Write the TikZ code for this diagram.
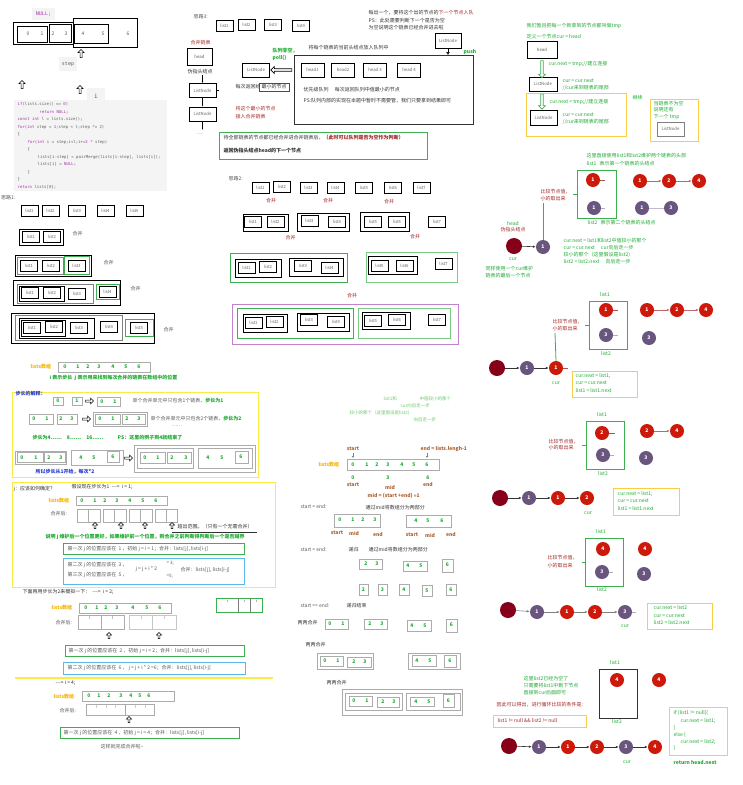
\documentclass[tikz,border=0pt]{standalone}
\usepackage{fontspec}
\setmainfont{Noto Sans CJK SC}
\setmonofont{DejaVu Sans Mono}
\usetikzlibrary{shapes.arrows,arrows.meta}
\definecolor{gt}{RGB}{30,170,50}
\definecolor{lgt}{RGB}{110,200,110}
\definecolor{rt}{RGB}{165,40,40}
\definecolor{ot}{RGB}{245,180,0}
\definecolor{bt}{RGB}{40,60,210}
\definecolor{brt}{RGB}{175,95,45}
\definecolor{yb}{RGB}{250,235,70}
\definecolor{gb}{RGB}{60,175,80}
\definecolor{lgb}{RGB}{120,205,130}
\definecolor{lbb}{RGB}{90,185,235}
\definecolor{pb}{RGB}{195,130,205}
\definecolor{nr}{RGB}{205,25,10}
\definecolor{np}{RGB}{105,85,125}
\definecolor{nd}{RGB}{135,0,25}
\definecolor{gy}{RGB}{90,90,90}
\definecolor{codebg}{RGB}{244,244,244}
\definecolor{gold}{RGB}{250,205,70}
\definecolor{kwc}{RGB}{170,50,170}
\newcommand\myfs{\fontsize{5}{6}\selectfont}
\newcommand\kw[1]{\textcolor{kwc}{#1}}
\newcommand\bxx[4]{\draw[nb] (#1,#2) rectangle (#3,#4);}
\newcommand\dgt[3]{\node[dg] at (#1,#2) {#3};}
\begin{document}
\begin{tikzpicture}[x=1pt,y=-1pt,
  every node/.style={font=\myfs, inner sep=0.5pt, text=gy},
  tw/.style={anchor=west},
  lb/.style={draw=black, line width=0.7pt, minimum width=17pt, minimum height=11pt, font=\fontsize{4.2}{5}\selectfont, text=gray!80!black},
  nb/.style={draw=gray!65, line width=0.6pt},
  dg/.style={text=gt, font=\bfseries\fontsize{5}{6}\selectfont},
  ua/.style={single arrow, draw=black, fill=white, line width=0.5pt, shape border rotate=90, minimum height=8pt, minimum width=6pt, single arrow head extend=1.3pt, inner sep=0.4pt},
  cn/.style={circle, fill=#1, draw=none, minimum size=14pt, text=white, font=\bfseries\fontsize{5}{6}\selectfont, inner sep=0},
  ar/.style={-{Latex[length=3pt,width=2.5pt]}, line width=0.6pt, draw=black!80},
  rar/.style={-{Latex[length=3pt,width=2.5pt]}, line width=0.8pt, draw=rt!70},
  stub/.style={line width=0.6pt, draw=nr!40!gray},
  code/.style={font=\ttfamily\fontsize{4}{5}\selectfont, text=gray!75!black, anchor=west},
  gtx/.style={anchor=west, text=gt},
  rtx/.style={anchor=west, text=rt},
  ln/.style={draw=black, line width=0.8pt, minimum width=27pt, minimum height=14pt, font=\fontsize{4.3}{5}\selectfont, text=gray!80!black}
]
\useasboundingbox (0,0) rectangle (743,785);
\fill[white] (0,0) rectangle (743,785);

% ===== top-left array & code =====
\node[fill=codebg, minimum width=23pt, minimum height=12pt] (nullbg) at (43.5,14) {};
\node[font=\ttfamily\fontsize{5}{6}\selectfont, text=kwc] (null) at (43.5,14) {NULL;};
\draw[line width=1pt] (13,22) rectangle (73,44);
\draw[line width=1pt] (17,26) rectangle (47,42);
\draw[line width=1pt] (49,24) rectangle (71,42);
\draw[line width=1pt] (73,18) rectangle (137,47);
\draw[line width=1pt] (74,24) rectangle (108,43);
\node (a0) at (28,34) {0}; \node (a1) at (42,34) {1};
\node (a2) at (53,34) {2}; \node (a3) at (66,34) {3};
\node (a4) at (83,34) {4}; \node (a5) at (103,34) {5}; \node (a6) at (128,34) {6};
\node[ua] (upstep) at (81,54) {};
\node[fill=codebg, minimum width=18pt, minimum height=14pt] (stepbg) at (68,64) {};
\node[font=\ttfamily\fontsize{5}{6}\selectfont] (steptx) at (68,64) {step};
\node[ua] (up0) at (22,85) {};
\node[ua] (upi) at (80,90) {};
\node[fill=codebg, minimum width=18pt, minimum height=14pt] (ibg) at (96,95) {};
\node[font=\ttfamily\fontsize{6}{7}\selectfont] (itx) at (96,96) {i};
\fill[codebg] (14,100) rectangle (167,191);
\node[code] (c1) at (17,104) {\kw{if}(lists.size() == \kw{0})};
\node[code] (c2) at (39,112) {\kw{return} \kw{NULL};};
\node[code] (c3) at (17,119) {\kw{const} \kw{int} l = lists.size();};
\node[code] (c4) at (17,127) {\kw{for}(\kw{int} step = \kw{1};step < l;step *= \kw{2})};
\node[code] (c5) at (17,134) {\{};
\node[code] (c6) at (27,142) {\kw{for}(\kw{int} i = step;i<l;i+=\kw{2} * step)};
\node[code] (c7) at (27,149) {\{};
\node[code] (c8) at (37,157) {lists[i-step] = pairMerge(lists[i-step], lists[i]);};
\node[code] (c9) at (37,164) {lists[i] = \kw{NULL};};
\node[code] (c10) at (27,172) {\}};
\node[code] (c11) at (17,179) {\}};
\node[code] (c12) at (17,187) {\kw{return} lists[\kw{0}];};

% ===== 思路1 =====
\node[tw] (s1) at (0.5,198) {思路1:};
\node[lb] (r1a) at (29.5,210.5) {list1};
\node[lb] (r1b) at (50.5,210.5) {list2};
\node[lb] (r1c) at (77,210.5) {list3};
\node[lb] (r1d) at (105.5,211) {list4};
\node[lb] (r1e) at (134.5,211) {list5};
\draw[line width=0.8pt] (19,229) rectangle (63,245);
\node[lb] (r2a) at (31,237) {list1};
\node[lb] (r2b) at (52,237) {list2};
\node[tw] (m2) at (72,234) {合并};
\draw[line width=0.8pt] (15,255) rectangle (91,276);
\draw[line width=0.8pt, draw=gray] (17,257) rectangle (63,274);
\node[lb] (r3a) at (29,265.5) {list1};
\node[lb] (r3b) at (51,265.5) {list2};
\draw[line width=0.8pt, draw=gb] (64,256) rectangle (89,274);
\node[lb] (r3c) at (76.5,265.5) {list3};
\node[tw] (m3) at (103,263) {合并};
\draw[line width=0.8pt] (13,280) rectangle (120,305);
\draw[line width=0.8pt, draw=gray] (17,284) rectangle (93,303);
\draw[line width=0.6pt] (19,286) rectangle (64,301);
\node[lb] (r4a) at (30,293) {list1};
\node[lb] (r4b) at (52,293) {list2};
\node[lb] (r4c) at (77,293.5) {list3};
\draw[line width=0.8pt, draw=gb] (96,284) rectangle (119,299);
\node[lb] (r4d) at (107.5,291.5) {list4};
\node[tw] (m4) at (130,289) {合并};
\draw[line width=0.8pt] (11,313) rectangle (154,343);
\draw[line width=0.8pt, draw=gray] (15,315) rectangle (122,340);
\draw[line width=0.7pt] (19,318) rectangle (94,338);
\draw[line width=0.6pt] (21,320) rectangle (65,336);
\node[lb] (r5a) at (32,327.5) {list1};
\node[lb] (r5b) at (54,327) {list2};
\node[lb] (r5c) at (79,327.5) {list3};
\node[lb] (r5d) at (109,326.5) {list4};
\draw[line width=0.8pt, draw=gb] (125,319) rectangle (153,336);
\node[lb] (r5e) at (139,327.5) {list5};
\node[tw] (m5) at (163,330) {合并};

% ===== step explanation =====
\node[tw, text=ot, font=\bfseries\myfs] (la1) at (30,367) {lists数组};
\bxx{58}{362}{150}{372}
\dgt{65}{367}{0}\dgt{78}{367}{1}\dgt{88}{367}{2}\dgt{99}{367}{3}\dgt{113}{367}{4}\dgt{126}{367}{5}\dgt{139}{367}{6}
\node[gtx, font=\bfseries\myfs] (ij) at (49,378) {i 表示步长 \ j 表示用来找到每次合并的链表在数组中的位置};
\draw[yb, line width=0.9pt] (12,392) rectangle (258,477);
\node[tw, text=bt, font=\bfseries\myfs] (bz) at (15,394) {步长的解释：};
\bxx{53}{397}{63}{405}\dgt{58}{401}{0}
\bxx{72}{397}{82}{405}\dgt{77}{401}{1}
\node[ua, shape border rotate=0, minimum height=8pt] (ra1) at (89,401) {};
\bxx{97}{397}{120}{406}\dgt{102}{401.5}{0}\dgt{115}{401.5}{1}
\node[tw] (e1) at (132,401) {单个合并单元中只包含1个链表，\textcolor{gt}{\bfseries 步长为1}};
\bxx{29}{414}{53}{424}\dgt{34}{419}{0}\dgt{47}{419}{1}
\bxx{57}{414}{77}{424}\dgt{61}{419}{2}\dgt{72}{419}{3}
\node[ua, shape border rotate=0, minimum height=8pt] (ra2) at (86,419) {};
\bxx{93}{412}{147}{426}
\bxx{95}{414}{120}{424}\dgt{100}{419}{0}\dgt{113}{419}{1}
\bxx{122}{414}{145}{424}\dgt{127}{419}{2}\dgt{139}{419}{3}
\node[tw] (e2) at (150,419) {单个合并单元中只包含2个链表，\textcolor{gt}{\bfseries 步长为2}};
\node[tw] (dots1) at (171,426) {……};
\node[gtx, font=\bfseries\myfs] (e3) at (32,438) {步长为4……\quad 8……\quad 16……};
\node[gtx, font=\bfseries\myfs] (e4) at (117,438) {PS：这里的例子到4就结束了};
\bxx{15}{451}{66}{464}
\bxx{17}{452.5}{43}{462.5}\dgt{22}{457.5}{0}\dgt{36}{457.5}{1}
\bxx{44}{452.5}{65}{462.5}\dgt{49}{457.5}{2}\dgt{61}{457.5}{3}
\bxx{71}{450}{123}{465}\dgt{81}{458}{4}\dgt{94}{458}{5}
\bxx{107}{451}{119}{462}\dgt{113}{456.5}{6}
\node[ua, shape border rotate=0, minimum height=8pt] (ra3) at (128,458) {};
\bxx{134}{445}{255}{472}
\bxx{137}{448}{193}{468}
\bxx{140}{452}{165}{463}\dgt{145}{457.5}{0}\dgt{158}{457.5}{1}
\bxx{167}{452}{191}{463}\dgt{172}{457.5}{2}\dgt{186}{457.5}{3}
\bxx{198}{448}{252}{468}\dgt{208}{458}{4}\dgt{222}{458}{5}
\bxx{235}{451}{248}{463}\dgt{241}{457}{6}
\node[tw, text=bt, font=\bfseries\myfs] (e5) at (35,472) {所以步长从1开始，每次*2};

% ===== j explanation =====
\draw[yb, line width=0.9pt] (12,482) rectangle (275,587);
\node[tw, text=black!80] (jq) at (13,489) {j：应该如何确定？};
\node[tw, text=black!80] (jq2) at (71,487) {假设现在步长为1 \ -{}-{}-> \ i = 1;};
\node[tw, text=ot, font=\bfseries\myfs] (la2) at (48,501) {lists数组};
\bxx{76}{496}{167}{505}
\dgt{82}{500.5}{0}\dgt{95}{500.5}{1}\dgt{105}{500.5}{2}\dgt{117}{500.5}{3}\dgt{130}{500.5}{4}\dgt{143}{500.5}{5}\dgt{156}{500.5}{6}
\node[tw] (hb1) at (50,514) {合并后:};
\foreach \a/\b in {77/100,103/126,129/152,155/177}{
  \draw[nb] (\a,509) rectangle (\b,522);
  \draw[nb] ({(\a+\b)/2},509) -- ({(\a+\b)/2},522);
}
\foreach \x in {95,121,145,172}{ \node[ua, minimum height=6pt, minimum width=5pt] at (\x,526) {}; }
\node[tw, text=black!80] (cc) at (177,527) {超出范围。（只有一个无需合并）};
\draw[black!80, line width=0.6pt] (172,532) -- (257,532);
\node[gtx, font=\bfseries\myfs] (sm) at (45,537) {说明 j 维护后一个位置更好，如果维护前一个位置，则合并之前判断得判断后一个是否越界};
\draw[gb, line width=0.8pt] (63,543) rectangle (244,554);
\node[tw] (g1) at (67,548.5) {第一次 j 的位置应该在 \ 1 ，初始 j = i = 1；合并：lists[j], lists[i-j]};
\draw[lbb, line width=0.8pt] (63,558) rectangle (244,584);
\node[tw] (b1) at (67,565) {第二次 j 的位置应该在 \ 3 ，};
\node[tw] (b2) at (67,575) {第三次 j 的位置应该在 \ 5 ，};
\node[tw] (b3) at (135,569) {j = j + i * 2};
\node[tw, font=\fontsize{4.5}{5}\selectfont] (b4) at (166,563) {= 3;};
\node[tw, font=\fontsize{4.5}{5}\selectfont] (b5) at (166,576) {=5;};
\node[tw] (b6) at (180,570) {合并：lists[j], lists[i-j]};
\node[tw, text=black!80] (i2) at (22,592) {下面再用步长为2来模拟一下： \ -{}-{}-> \ i = 2;};
\draw[gb, line width=0.8pt] (216,598) rectangle (262,612);
\draw[gray, line width=0.6pt] (238,598) -- (238,612) (250,598) -- (250,612);
\draw[gray!60, line width=0.4pt] (227,600) -- (227,602) (244,600) -- (244,602) (256,600) -- (256,602);
\node[tw, text=ot, font=\bfseries\myfs] (la3) at (51,608) {lists数组};
\bxx{79}{603}{171}{613}
\dgt{86}{608}{0}\dgt{97}{608}{1}\dgt{106}{608}{2}\dgt{117}{608}{3}\dgt{133}{608}{4}\dgt{147}{608}{5}\dgt{160}{608}{6}
\node[tw] (hb2) at (55,623) {合并后:};
\draw[nb] (78,615) rectangle (124,629);
\draw[nb] (101,615) -- (101,629);
\draw[gray!50, line width=0.4pt] (89.5,616) -- (89.5,619) (112.5,616) -- (112.5,619);
\draw[draw=gray!45, line width=0.6pt] (129,615) rectangle (176,629);
\draw[gray!45] (152.5,615) -- (152.5,629);
\draw[gray!40, line width=0.4pt] (141,616) -- (141,619) (164,616) -- (164,619);
\node[ua, minimum height=6pt, minimum width=5pt] (u21) at (109,636) {};
\node[ua, minimum height=6pt, minimum width=5pt] (u22) at (159,636) {};
\draw[gb, line width=0.8pt] (65,645) rectangle (244,656);
\node[tw] (g2) at (68,650.5) {第一次 j 的位置应该在 \ 2 ，初始 j = i = 2；合并：lists[j], lists[i-j]};
\draw[lbb, line width=0.8pt] (63,662) rectangle (245,674);
\node[tw] (g3) at (67,668) {第二次 j 的位置应该在 \ 6 ， j = j + i * 2 =6；合并：lists[j], lists[i-j]};
\draw[yb, line width=1.5pt] (15,678) -- (273,678);
\node[tw, text=black!80] (i4) at (55,683) {-{}-{}-> i = 4;};
\node[tw, text=ot, font=\bfseries\myfs] (la4) at (53,697) {lists数组};
\bxx{82}{691}{174}{701}
\dgt{89}{696}{0}\dgt{99}{696}{1}\dgt{109}{696}{2}\dgt{121}{696}{3}\dgt{131}{696}{4}\dgt{140}{696}{5}\dgt{149}{696}{6}
\node[tw] (hb3) at (59,711) {合并后:};
\draw[nb] (86,704) rectangle (154,715);
\draw[gray!70, line width=0.6pt] (125,704) -- (125,715);
\foreach \x in {96,106,115,135,145}{ \draw[gray!40, line width=0.4pt] (\x,705) -- (\x,708); }
\node[ua, minimum height=6pt, minimum width=5pt] (u41) at (129,720) {};
\draw[gb, line width=0.8pt] (60,727) rectangle (239,738);
\node[tw] (g4) at (63,732.5) {第一次 j 的位置应该在 \ 4 ，初始 j = i = 4；合并：lists[j], lists[i-j]};
\node[tw] (done) at (100,747) {这样就完成合并啦\textasciitilde};

% ===== 思路3 =====
\node[tw] (s3) at (193,17) {思路3:};
\node[lb] (q1) at (224.5,25.5) {list1};
\node[lb] (q2) at (246.5,24.5) {list2};
\node[lb] (q3) at (273,25) {list3};
\node[lb] (q4) at (301,25.5) {list4};
\node[tw, text=rt] (hbl) at (190,43) {合并链表};
\node[draw=black, line width=0.8pt, minimum width=25pt, minimum height=17pt, font=\fontsize{4.3}{5}\selectfont] (hd3) at (199.5,56.5) {head};
\node[text=black!80] (wz) at (200,72) {伪指头结点};
\node[ln] (ln1) at (202.5,90.5) {ListNode};
\node[ln] (ln2) at (202.5,114) {ListNode};
\draw[-{Latex[length=2pt]}, line width=1pt] (wz.south -| ln1.north) -- (ln1.north);
\draw[-{Latex[length=2pt]}, line width=1pt] (ln1.south) -- (ln2.north);
\coordinate (ln3) at (202.5,130);
\draw[-{Latex[length=2pt]}, line width=0.8pt] (ln2.south) -- (ln3);
\node (dd) at (200,134) {....};
\draw[line width=0.5pt] (ln1.east) -- ++(3,0);
\node[ln] (pq) at (256,70) {ListNode};
\node[draw=black!80, line width=0.8pt, minimum width=179pt, minimum height=69pt, anchor=north west] (pqbox) at (294,55) {};
\node[single arrow, draw=black, line width=0.6pt, shape border rotate=180, minimum height=21pt, minimum width=7pt, single arrow head extend=1.5pt, inner sep=0.5pt] (pa) at (282,70) {};
\node[gtx, font=\bfseries\myfs] (qf) at (272,51) {队列非空，};
\node[gtx, font=\bfseries\myfs] (poll) at (272,58) {poll()};
\node[tw, text=black!80] (fr) at (308,48) {将每个链表的当前头结点放入队列中};
\node[ln, minimum width=23pt] (h1) at (312.5,70) {head1};
\node[ln, minimum width=23pt] (h2) at (343,70) {head2};
\node[ln, minimum width=23pt] (h3) at (375,70) {head 3};
\node[ln, minimum width=23pt] (h4) at (409,70) {head 4};
\node[tw, text=black!80] (pr1) at (303,90) {优先级队列 \quad 每次返回队列中值最小的节点};
\node[tw, text=black!80] (pr2) at (303,101) {PS:队列内部的实现在本题中暂时不需要管，我们只要拿到结果即可};
\node[tw, text=black!80] (mc) at (235,87) {每次返回给};
\node[draw=rt, line width=0.7pt, minimum width=30pt, minimum height=8pt, text=black!80] (mn) at (274,87) {最小的节点};
\node[tw, text=rt] (jr1) at (235,109) {将这个最小的节点};
\node[tw, text=rt] (jr2) at (235,117) {接入合并链表};
\node[ln, minimum width=26pt, minimum height=15pt] (pushln) at (448,40.5) {ListNode};
\draw[-{Latex[open,length=3pt,width=4pt]}, line width=1pt] (pushln.south) -- (pushln.south |- pqbox.north);
\node[gtx, font=\bfseries\myfs] (push) at (463,52) {push};
\node[tw, text=black!80] (t1) at (368,13) {每出一个，要将这个出的节点的\textcolor{rt}{下一个节点入队}};
\node[tw, text=black!80] (t2) at (368,21) {PS：此处需要判断下一个是否为空};
\node[tw, text=black!80] (t3) at (368,28) {为空说明这个链表已经合并进去啦};
\draw[gb, line width=0.8pt] (219,132) rectangle (427,159);
\node[tw, text=black!80] (gg1) at (223,138) {待全部链表的节点都已经合并进合并链表后，\textcolor{rt}{\bfseries（此时可以队列是否为空作为判断）}};
\node[tw, text=black!80, font=\bfseries\myfs] (gg2) at (223,151) {返回伪指头结点head的下一个节点};

% ===== 思路2 =====
\node[tw] (s2) at (228,179) {思路2:};
\node[lb] (p1) at (260.5,188) {list1};
\node[lb] (p2) at (282,187) {list2};
\node[lb] (p3) at (308.5,188) {list3};
\node[lb] (p4) at (335.5,188) {list4};
\node[lb] (p5) at (364,188) {list5};
\node[lb] (p6) at (393,188) {list6};
\node[lb] (p7) at (421.5,188) {list7};
\node[text=rt] (pm1) at (271,201) {合并};
\node[text=rt] (pm2) at (328,201) {合并};
\node[text=rt] (pm3) at (389,202) {合并};
\draw[line width=0.8pt] (243,214) rectangle (288,231);
\node[lb] (pp1) at (253,222) {list1};
\node[lb] (pp2) at (275.5,221.5) {list2};
\draw[line width=0.8pt] (297,213) rectangle (349,231);
\node[lb] (pp3) at (309.5,220.5) {list3};
\node[lb] (pp4) at (337,221.5) {list4};
\draw[line width=0.8pt] (360,212) rectangle (409,231);
\node[lb] (pp5) at (373,222) {list5};
\node[lb] (pp6) at (397,222) {list6};
\node[lb] (pp7) at (437,222) {list7};
\node[text=rt] (pm4) at (290.5,238) {合并};
\node[text=rt] (pm5) at (415,237) {合并};
\draw[gb, line width=0.8pt] (230,253) rectangle (347,282);
\draw[line width=0.8pt] (235,259) rectangle (281,277);
\node[lb] (q31) at (246.5,267.5) {list1};
\node[lb] (q32) at (268,267) {list2};
\draw[line width=0.8pt] (289,258) rectangle (343,276);
\node[lb] (q33) at (303,266) {list3};
\node[lb] (q34) at (329.5,267.5) {list4};
\draw[lgb, line width=0.8pt] (366,252) rectangle (457,282);
\draw[line width=0.8pt] (368,256) rectangle (417,274);
\node[lb] (q35) at (379.5,265.5) {list5};
\node[lb] (q36) at (404.5,265.5) {list6};
\node[lb] (q37) at (443.5,264) {list7};
\node[text=rt] (pm6) at (352,296) {合并};
\draw[pb, line width=0.8pt] (232,304) rectangle (458,344);
\draw[gb, line width=0.8pt] (237,308) rectangle (353,338);
\draw[line width=0.8pt] (243,314) rectangle (287,332);
\node[lb] (q41) at (253.5,323) {list1};
\node[lb] (q42) at (274.5,321.5) {list2};
\draw[line width=0.8pt] (297,313) rectangle (349,331);
\node[lb] (q43) at (309,319.5) {list3};
\node[lb] (q44) at (336,321.5) {list4};
\draw[lgb, line width=0.8pt] (358,308) rectangle (450,338);
\draw[line width=0.8pt] (362,312) rectangle (410,329);
\node[lb] (q45) at (373,321) {list5};
\node[lb] (q46) at (397,319.5) {list6};
\node[lb] (q47) at (437,319.5) {list7};

% ===== faded green note =====
\node[tw, text=lgt, font=\fontsize{4.5}{5}\selectfont] (fn1) at (383,399) {list1和};
\node[tw, text=lgt, font=\fontsize{4.5}{5}\selectfont] (fn2) at (419,399) {中值较小的那个};
\node[tw, text=lgt, font=\fontsize{4.5}{5}\selectfont] (fn3) at (400,406) {cur向后走一步};
\node[tw, text=lgt, font=\fontsize{4.5}{5}\selectfont] (fn4) at (349,413) {较小的那个（这里假设是list2)};
\node[tw, text=lgt, font=\fontsize{4.5}{5}\selectfont] (fn5) at (413,420) {向后走一步};

% ===== divide & conquer =====
\node[text=brt, font=\bfseries\myfs] (st0) at (353,449) {start};
\node[tw, text=brt, font=\bfseries\myfs] (en0) at (420,449) {end = lists.lengh-1};
\draw[-{Latex[open,length=2pt,width=3pt]}, gray, line width=0.5pt] (353,453) -- (353,458);
\draw[-{Latex[open,length=2pt,width=3pt]}, gray, line width=0.5pt] (427,453) -- (427,458);
\node[tw, text=ot, font=\bfseries\myfs] (la5) at (318,465) {lists数组};
\bxx{347}{459}{439}{470}
\dgt{353}{465}{0}\dgt{367}{465}{1}\dgt{377}{465}{2}\dgt{388}{465}{3}\dgt{402}{465}{4}\dgt{414}{465}{5}\dgt{427}{465}{6}
\dgt{353}{478}{0}\node[text=brt, font=\bfseries\myfs] (st1) at (353,485) {start};
\dgt{388}{478}{3}\node[text=brt, font=\bfseries\myfs] (md1) at (390,487) {mid};
\dgt{428}{478}{6}\node[text=brt, font=\bfseries\myfs] (en1) at (428,485) {end};
\node[tw, text=brt, font=\bfseries\myfs] (mf) at (367,496) {mid = (start +end) >>1};
\node[tw] (se1) at (300,507) {start < end:};
\node[tw, text=black!80] (dv1) at (365,508) {通过mid将数组分为两部分};
\bxx{334}{514}{380}{527}\dgt{340}{520}{0}\dgt{353}{520}{1}\dgt{363}{520}{2}\dgt{375}{520}{3}
\bxx{406}{515}{451}{527}\dgt{416}{521}{4}\dgt{428}{521}{5}\dgt{442}{521}{6}
\node[text=brt, font=\bfseries\myfs] (l1) at (337,533) {start};
\node[text=brt, font=\bfseries\myfs] (l2) at (354,533) {mid};
\node[text=brt, font=\bfseries\myfs] (l3) at (378,535) {end};
\node[text=brt, font=\bfseries\myfs] (l4) at (412,535) {start};
\node[text=brt, font=\bfseries\myfs] (l5) at (430,535) {mid};
\node[text=brt, font=\bfseries\myfs] (l6) at (451,535) {end};
\node[tw] (se2) at (300,550) {start < end:};
\node[tw, text=black!80] (dg2) at (348,550) {递归};
\node[tw, text=black!80] (dv2) at (368,550) {通过mid将数组分为两部分};
\bxx{359}{559}{382}{569}\dgt{366}{564}{2}\dgt{377}{564}{3}
\bxx{403}{561}{427}{571}\dgt{408}{566}{4}\dgt{421}{566}{5}
\bxx{442}{559}{453}{572}\dgt{447.5}{565}{6}
\bxx{359}{584}{368}{595}\dgt{363.5}{589.5}{2}
\bxx{378}{584}{387}{595}\dgt{382.5}{589.5}{3}
\bxx{399}{584}{409}{595}\dgt{404}{589.5}{4}
\bxx{422}{585}{432}{596}\dgt{427}{590.5}{5}
\bxx{446}{584}{456}{595}\dgt{451}{589.5}{6}
\node[tw] (se3) at (300,606) {start == end:};
\node[tw, text=black!80] (dg3) at (346,606) {递归结束};
\node[tw, text=black!80] (mg1) at (297,623) {两两合并};
\bxx{325}{619}{348}{629}\dgt{330}{624}{0}\dgt{343}{624}{1}
\bxx{364}{619}{387}{629}\dgt{370}{624}{2}\dgt{382}{624}{3}
\bxx{407}{620}{431}{631}\dgt{412}{625.5}{4}\dgt{425}{625.5}{5}
\bxx{446}{619}{457}{632}\dgt{451.5}{625}{6}
\node[tw, text=black!80] (mg2) at (305,645) {两两合并};
\bxx{317}{653}{373}{669}
\bxx{320}{656}{343}{666}\dgt{325}{661}{0}\dgt{338}{661}{1}
\bxx{347}{657}{371}{667}\dgt{354}{662}{2}\dgt{365}{662}{3}
\bxx{408}{653}{460}{669}
\bxx{412}{655}{436}{666}\dgt{417}{660.5}{4}\dgt{430}{660.5}{5}
\bxx{444}{655}{456}{667}\dgt{450}{661}{6}
\node[tw, text=black!80] (mg3) at (326,683) {两两合并};
\bxx{342}{689}{462}{715}
\bxx{345}{693}{402}{710}
\bxx{349}{696}{372}{706}\dgt{354}{701}{0}\dgt{367}{701}{1}
\bxx{377}{697}{399}{707}\dgt{383}{702}{2}\dgt{394}{702}{3}
\bxx{406}{693}{460}{710}
\bxx{410}{697}{434}{706}\dgt{416}{701.5}{4}\dgt{429}{701.5}{5}
\bxx{443}{694}{454}{707}\dgt{448.5}{700.5}{6}

% ===== right column: tmp =====
\node[gtx] (tm1) at (526,26) {我们暂且把每一个新拿到的节点都叫做tmp};
\node[gtx] (tm2) at (526,37) {定义一个节点cur = head};
\node[draw=black, line width=0.8pt, minimum width=30pt, minimum height=17pt, font=\fontsize{4.3}{5}\selectfont] (rhd) at (542,49.5) {head};
\node[ln, minimum width=28pt] (rln1) at (543,84) {ListNode};
\node[single arrow, draw=gb, fill=white, line width=0.6pt, shape border rotate=270, minimum height=17pt, minimum width=7pt, single arrow head extend=1.5pt, inner sep=0.5pt] (ga1) at (542,68.5) {};
\node[gtx] (ct1) at (548,64) {cur.next = tmp;//建立连接};
\node[gtx] (ct2) at (562,81) {cur = cur.next};
\node[gtx] (ct3) at (562,88) {//cur来到链表的尾部};
\draw[gold, line width=0.8pt] (526,93) rectangle (626,136);
\node[ln, minimum width=27pt, minimum height=15pt] (rln2) at (543.5,117.5) {ListNode};
\node[single arrow, draw=gb, fill=white, line width=0.6pt, shape border rotate=270, minimum height=15pt, minimum width=7pt, single arrow head extend=1.5pt, inner sep=0.5pt] (ga2) at (542,101) {};
\node[gtx] (ct4) at (549,102) {cur.next = tmp;//建立连接};
\node[gtx] (ct5) at (562,115) {cur = cur.next};
\node[gtx] (ct6) at (562,122) {//cur来到链表的尾部};
\node[gtx] (jx) at (632,98) {继续};
\draw[gold, line width=0.8pt] (650,99) rectangle (698,141);
\node[gtx] (nn1) at (653,104) {当链表不为空};
\node[gtx] (nn2) at (653,110) {说明还有};
\node[gtx] (nn3) at (653,117) {下一个 tmp};
\node[ln, draw=gray, minimum width=27pt] (rln3) at (670.5,129) {ListNode};
\node[gtx] (zj1) at (586,156) {这里直接使用list1和list2维护两个链表的头部};
\node[gtx] (zj2) at (586,164) {list1 \ \ 表示第一个链表的头结点};

% step A
\draw[gb, line width=0.8pt] (577,170) rectangle (616,218);
\node[cn=nr] (A1) at (593,180) {1};
\node[cn=np] (A2) at (594,208) {1};
\draw[stub] (A1.east) -- ++(5,0);
\draw[stub, draw=np!50] (A2.east) -- ++(4,0);
\node[gtx] (l2t) at (587,223) {list2 \ \ 表示第二个链表的头结点};
\node[cn=nr] (A3) at (640,181) {1};
\node[cn=nr] (A4) at (669,181) {2};
\node[cn=nr] (A5) at (699,181) {4};
\draw[rar] (A3) -- (A4); \draw[rar] (A4) -- (A5);
\node[cn=np] (A6) at (642,208) {1};
\node[cn=np] (A7) at (671,208) {3};
\draw[line width=0.9pt, draw=np!40] (A6) -- (A7);
\node[rtx] (cmpA1) at (540,192) {比较节点值，};
\node[rtx] (cmpA2) at (540,199) {小的取出来};
\draw[gb, line width=0.8pt] (573,194) -- (577,194);
\node[text=gt] (hdA) at (513,224) {head};
\node[text=rt] (wzA) at (513,230) {伪指头结点};
\node[cn=nd, minimum size=16pt] (A0) at (514,246) {};
\node[cn=np] (A8) at (543,247) {1};
\draw[ar] (A0) -- (A8);
\draw[gb, line width=0.8pt] (543,203) -- (A8.north);
\node[text=gt] (curA) at (513,259) {cur};
\node[gtx] (ty1) at (485,269) {同样使用一个cur维护};
\node[gtx] (ty2) at (485,276) {链表的最后一个节点};
\node[gtx] (ex1) at (563,241) {cur.next = list1和list2中值较小的那个};
\node[gtx] (ex2) at (563,248) {cur = cur.next \quad cur向后走一步};
\node[gtx] (ex3) at (563,255) {较小的那个（这里假设是list2)};
\node[gtx] (ex4) at (563,262) {list2 = list2.next \quad 向后走一步};

% step B
\node[text=gt] (Bl1) at (605,295) {list1};
\draw[gb, line width=0.8pt] (589,301) rectangle (627,349);
\node[cn=nr] (B1) at (606,310) {1};
\node[cn=np] (B2) at (606,335) {3};
\draw[stub] (B1.east) -- ++(5,0);
\draw[stub, draw=np!50] (B2.east) -- ++(5,0);
\node[text=gt] (Bl2) at (606,354) {list2};
\node[cn=nr] (B3) at (647,310) {1};
\node[cn=nr] (B4) at (677,310) {2};
\node[cn=nr] (B5) at (706,310) {4};
\draw[rar] (B3) -- (B4); \draw[rar] (B4) -- (B5);
\node[cn=np] (B6) at (649,338) {3};
\node[rtx] (cmpB1) at (552,322) {比较节点值，};
\node[rtx] (cmpB2) at (552,329) {小的取出来};
\draw[gb, line width=0.8pt] (585,325) -- (589,325);
\node[cn=nd, minimum size=16pt] (B0) at (497,368) {};
\node[cn=np] (B7) at (527,368) {1};
\node[cn=nr] (B8) at (556,368) {1};
\draw[ar] (B0) -- (B7); \draw[ar] (B7) -- (B8);
\draw[stub] (B8.east) -- ++(5,0);
\draw[gb, line width=0.8pt] (555,333) -- (B8.north);
\node[text=gt] (curB) at (556,383) {cur};
\draw[gold, line width=0.8pt] (572,371) rectangle (637,397);
\node[gtx] (bb1) at (575,376) {cur.next = list1;};
\node[gtx] (bb2) at (575,383) {cur = cur.next};
\node[gtx] (bb3) at (575,391) {list1 = list1.next};

% step C
\node[text=gt] (Cl1) at (602,415) {list1};
\draw[gb, line width=0.8pt] (586,421) rectangle (624,469);
\node[cn=nr] (C1) at (602,433) {2};
\node[cn=np] (C2) at (603,455) {3};
\draw[stub] (C1.east) -- ++(6,0);
\draw[stub, draw=np!50] (C2.east) -- ++(4,0);
\node[rtx] (cmpC1) at (548,442) {比较节点值，};
\node[rtx] (cmpC2) at (548,448) {小的取出来};
\draw[gb, line width=0.8pt] (582,445) -- (586,445);
\node[cn=nr] (C3) at (647,431) {2};
\node[cn=nr] (C4) at (677,431) {4};
\draw[rar] (C3) -- (C4);
\node[cn=np] (C5) at (646,458) {3};
\node[text=gt] (Cl2) at (603,474) {list2};
\node[cn=nd, minimum size=16pt] (D0) at (500,498) {};
\node[cn=np] (D1) at (529,498) {1};
\node[cn=nr] (D2) at (558,498) {1};
\node[cn=nr] (D3) at (587,498) {2};
\draw[ar] (D0) -- (D1); \draw[ar] (D1) -- (D2); \draw[ar] (D2) -- (D3);
\node[text=gt] (curD) at (588,513) {cur};
\draw[gold, line width=0.8pt] (613,488) rectangle (679,515);
\node[gtx] (dd1) at (617,494) {cur.next = list1;};
\node[gtx] (dd2) at (617,501) {cur = cur.next};
\node[gtx] (dd3) at (617,509) {list1 = list1.next};

% step E
\node[text=gt] (El1) at (601,532) {list1};
\draw[gb, line width=0.8pt] (585,538) rectangle (623,586);
\node[cn=nr] (E1) at (603,549) {4};
\node[cn=np] (E2) at (602,572) {3};
\draw[stub, draw=np!50] (E2.east) -- ++(4,0);
\node[text=gt] (El2) at (602,590) {list2};
\node[cn=nr] (E3) at (645,549) {4};
\node[cn=np] (E4) at (644,574) {3};
\node[rtx] (cmpE1) at (547,558) {比较节点值，};
\node[rtx] (cmpE2) at (547,566) {小的取出来};
\draw[gb, line width=0.8pt] (582,562) -- (585,562);
\node[cn=nd, minimum size=16pt] (F0) at (508,610) {};
\node[cn=np] (F1) at (537,612) {1};
\node[cn=nr] (F2) at (567,612) {1};
\node[cn=nr] (F3) at (595,612) {2};
\node[cn=np] (F4) at (625,612) {3};
\draw[ar, draw=gray] (F0) -- (F1); \draw[ar, draw=gray] (F1) -- (F2); \draw[ar, draw=gray] (F2) -- (F3); \draw[ar, draw=gray] (F3) -- (F4);
\draw[stub, draw=np!50] (F4.east) -- ++(4,0);
\node[text=gt] (curF) at (625,626) {cur};
\draw[gold, line width=0.8pt] (647,603) rectangle (712,629);
\node[gtx] (ff1) at (653,608) {cur.next = list2};
\node[gtx] (ff2) at (653,616) {cur = cur.next};
\node[gtx] (ff3) at (653,623) {list2 = list2.next};

% step G
\node[text=gt] (Gl1) at (615,663) {list1};
\draw[black!80, line width=0.8pt] (599,669) rectangle (637,718);
\node[cn=nr] (G1) at (617,680) {4};
\node[cn=nr] (G2) at (659,680) {4};
\node[text=gt] (Gl2) at (617,722) {list2};
\node[gtx] (gz1) at (523,679) {这里list2已经为空了};
\node[gtx] (gz2) at (523,686) {只需要将list1中剩下节点};
\node[gtx] (gz3) at (523,693) {直接到cur后面即可};
\node[rtx] (cond) at (496,705) {因此可以得出，进行循环比较的条件是：};
\draw[gold, line width=0.8pt] (493,715) rectangle (586,727);
\node[rtx] (condc) at (497,721) {list1 != null \&\& list2 != null};
\node[cn=nd, minimum size=16pt] (H0) at (509,746) {};
\node[cn=np] (H1) at (539,747) {1};
\node[cn=nr] (H2) at (568,747) {1};
\node[cn=nr] (H3) at (597,747) {2};
\node[cn=np] (H4) at (626,747) {3};
\node[cn=nr] (H5) at (655,747) {4};
\draw[ar] (H0) -- (H1); \draw[ar] (H1) -- (H2); \draw[ar] (H2) -- (H3); \draw[ar] (H3) -- (H4); \draw[ar] (H4) -- (H5);
\node[text=gt] (curH) at (627,762) {cur};
\draw[gold, line width=0.8pt] (669,707) rectangle (727,755);
\node[gtx] (if1) at (673,713) {if (list1 != null)\{};
\node[gtx] (if2) at (680,721) {cur.next = list1;};
\node[gtx] (if3) at (673,728) {\}};
\node[gtx] (if4) at (673,735) {else \{};
\node[gtx] (if5) at (680,742) {cur.next = list2;};
\node[gtx] (if6) at (673,748) {\}};
\node[gtx, font=\bfseries\myfs] (rtn) at (673,763) {return head.next};
\end{tikzpicture}
\end{document}
